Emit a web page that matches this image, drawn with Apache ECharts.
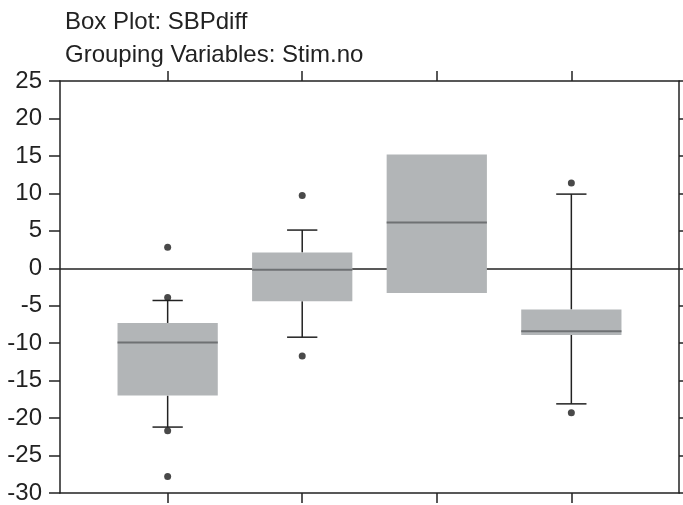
<!DOCTYPE html>
<html>
<head>
<meta charset="utf-8">
<script src="https://cdn.jsdelivr.net/npm/echarts@6/dist/echarts.min.js"></script>
<style>
html,body{margin:0;padding:0;background:#fff;}
#chart{width:683px;height:505px;}
</style>
</head>
<body>
<div id="chart"></div>
<script>
// ---- data ----
var titleLine1 = 'Box Plot: SBPdiff';
var titleLine2 = 'Grouping Variables: Stim.no';
var groupPositions = [1, 2, 3, 4];
var whiskerLow  = [-21.2, -9.2, -3.3, -18.1];
var q1Values    = [-17.0, -4.4, -3.3, -8.9];
var medianVals  = [-9.9, -0.2, 6.1, -8.4];
var q3Values    = [-7.3, 2.1, 15.2, -5.5];
var whiskerHigh = [-4.3, 5.1, 15.2, 9.9];
var outlierGroup = [1, 1, 1, 1, 2, 2, 4, 4];
var outlierValue = [2.8, -3.9, -21.7, -27.8, 9.7, -11.7, 11.4, -19.3];
var yTickMin = -30, yTickMax = 25, yTickStep = 5;

// ---- build ----
var boxData = groupPositions.map(function (g, i) {
  return [g, whiskerLow[i], q1Values[i], medianVals[i], q3Values[i], whiskerHigh[i]];
});
var outlierData = outlierGroup.map(function (g, i) { return [g, outlierValue[i]]; });

var ink = '#222222';
var boxFill = '#b2b5b7';
var medianColor = '#6e7173';
var font = 'Liberation Sans';

var chart = echarts.init(document.getElementById('chart'), null, {renderer: 'canvas'});

function renderBox(params, api) {
  var x = api.value(0);
  var pLo = api.coord([x, api.value(1)]);
  var pQ1 = api.coord([x, api.value(2)]);
  var pMed = api.coord([x, api.value(3)]);
  var pQ3 = api.coord([x, api.value(4)]);
  var pHi = api.coord([x, api.value(5)]);
  var halfBox = api.size([0.745, 0])[0] / 2;
  var halfCap = api.size([0.225, 0])[0] / 2;
  var cx = pMed[0];
  var children = [];
  var lineStyle = {stroke: ink, lineWidth: 1.5};
  if (pHi[1] < pQ3[1] - 0.5) {
    children.push({type: 'line', shape: {x1: cx, y1: pHi[1], x2: cx, y2: pQ3[1]}, style: lineStyle});
    children.push({type: 'line', shape: {x1: cx - halfCap, y1: pHi[1], x2: cx + halfCap, y2: pHi[1]}, style: lineStyle});
  }
  if (pLo[1] > pQ1[1] + 0.5) {
    children.push({type: 'line', shape: {x1: cx, y1: pQ1[1], x2: cx, y2: pLo[1]}, style: lineStyle});
    children.push({type: 'line', shape: {x1: cx - halfCap, y1: pLo[1], x2: cx + halfCap, y2: pLo[1]}, style: lineStyle});
  }
  children.push({type: 'rect', shape: {x: cx - halfBox, y: pQ3[1], width: halfBox * 2, height: pQ1[1] - pQ3[1]}, style: {fill: boxFill}});
  children.push({type: 'line', shape: {x1: cx - halfBox, y1: pMed[1], x2: cx + halfBox, y2: pMed[1]}, style: {stroke: medianColor, lineWidth: 2}});
  return {type: 'group', children: children};
}

var tickStyle = {color: ink, width: 1.5};
var titleStyle = {fontFamily: font, fontSize: 24, fontWeight: 'normal', color: ink};
var option = {
  animation: false,
  backgroundColor: '#fff',
  title: [
    {text: titleLine1, left: 60, top: 5, textStyle: titleStyle},
    {text: titleLine2, left: 60, top: 38, textStyle: titleStyle}
  ],
  grid: {left: 60, right: 4, top: 81, bottom: 12, containLabel: false},
  xAxis: [
    {type: 'value', position: 'bottom', min: 0.2, max: 4.8,
     axisLine: {show: true, onZero: false, lineStyle: tickStyle},
     axisTick: {show: true, length: 10, customValues: groupPositions, lineStyle: tickStyle},
     axisLabel: {show: false}, splitLine: {show: false}},
    {type: 'value', position: 'top', min: 0.2, max: 4.8,
     axisLine: {show: true, onZero: false, lineStyle: tickStyle},
     axisTick: {show: true, length: 10, customValues: groupPositions, lineStyle: tickStyle},
     axisLabel: {show: false}, splitLine: {show: false}}
  ],
  yAxis: [
    {type: 'value', position: 'left', min: yTickMin, max: yTickMax, interval: yTickStep,
     axisLine: {show: true, onZero: false, lineStyle: tickStyle},
     axisTick: {show: true, length: 11, lineStyle: tickStyle},
     axisLabel: {show: true, margin: 18, fontFamily: font, fontSize: 24, color: ink},
     splitLine: {show: false}},
    {type: 'value', position: 'right', min: yTickMin, max: yTickMax, interval: yTickStep,
     axisLine: {show: true, onZero: false, lineStyle: tickStyle},
     axisTick: {show: true, length: 11, lineStyle: tickStyle},
     axisLabel: {show: false}, splitLine: {show: false}}
  ],
  series: [
    {type: 'line', data: [], xAxisIndex: 0, yAxisIndex: 0, z: 1, silent: true,
     markLine: {silent: true, z: 1, symbol: 'none', label: {show: false},
       lineStyle: {color: ink, width: 1.5, type: 'solid'}, data: [{yAxis: 0}]}},
    {type: 'custom', xAxisIndex: 0, yAxisIndex: 0, z: 3, renderItem: renderBox,
     encode: {x: 0, y: [1, 2, 3, 4, 5]}, data: boxData},
    {type: 'scatter', xAxisIndex: 0, yAxisIndex: 0, z: 4, symbol: 'circle', symbolSize: 7,
     itemStyle: {color: '#1c1c1c'}, data: outlierData}
  ]
};
chart.setOption(option);
</script>
</body>
</html>
